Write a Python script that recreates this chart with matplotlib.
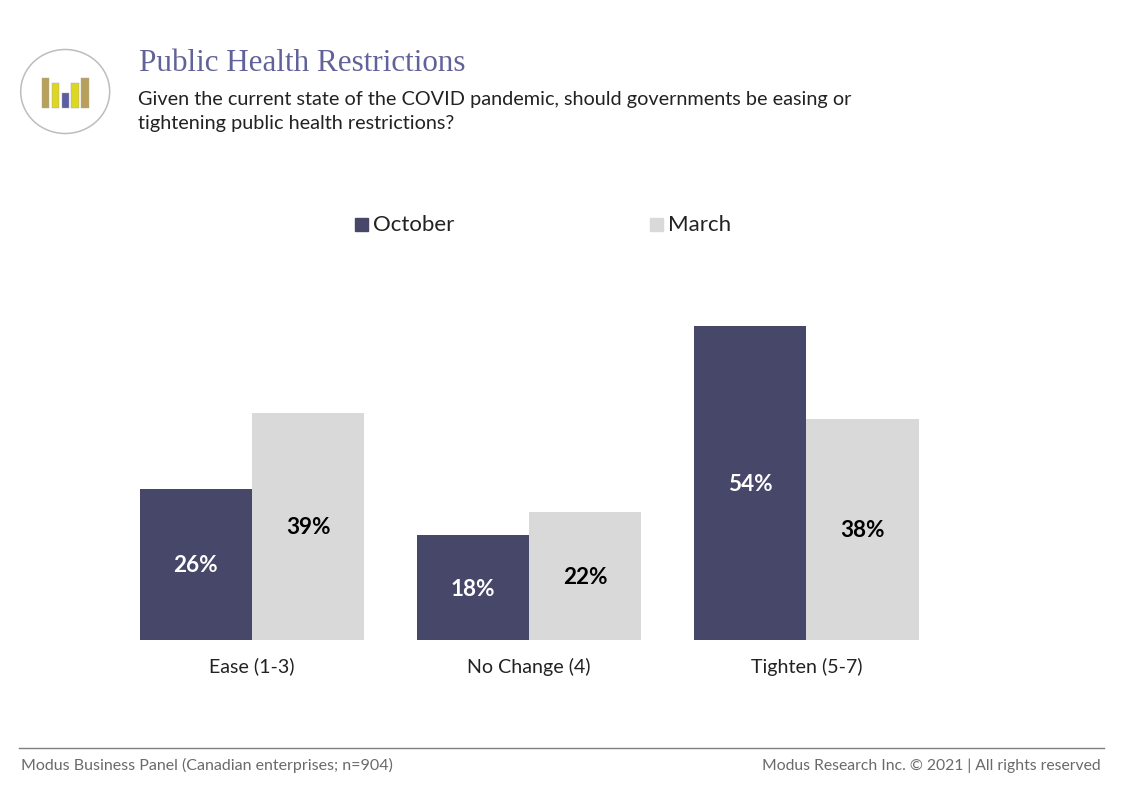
import matplotlib
matplotlib.use("Agg")
import matplotlib.pyplot as plt
from matplotlib.patches import Ellipse
from matplotlib.lines import Line2D

W, H = 1122, 793
categories = ["Ease (1-3)", "No Change (4)", "Tighten (5-7)"]
october = [26, 18, 54]
march = [39, 22, 38]
series_names = ["October", "March"]
title = "Public Health Restrictions"
question_lines = ["Given the current state of the COVID pandemic, should governments be easing or",
                  "tightening public health restrictions?"]
foot_left = "Modus Business Panel (Canadian enterprises; n=904)"
foot_right = "Modus Research Inc. \u00a9 2021 | All rights reserved"
logo_heights = [30, 25, 15, 25, 30]
logo_colors = ["#B9A05A", "#DDD622", "#5C5CA4", "#DDD622", "#B9A05A"]

DARK, LIGHT = "#474769", "#D9D9D9"
SANS = "Lato"
plt.rcParams["font.family"] = [SANS, "DejaVu Sans"]

fig = plt.figure(figsize=(W / 100, H / 100), dpi=100, facecolor="white")

def px_axes(x0, y0, x1, y1):
    return fig.add_axes([x0 / W, 1 - y1 / H, (x1 - x0) / W, (y1 - y0) / H])

# main chart: centres 252, 529, 806.5; baseline y=640; 5.815 px per unit
ax = px_axes(100, 291, 960, 640)
unit = 277.2
ax.set_xlim((100 - 252) / unit, (960 - 252) / unit)
ax.set_ylim(0, 349 / 5.815)
w = 112.2 / unit
xs = list(range(len(categories)))
b1 = ax.bar([x - w / 2 for x in xs], october, w, color=DARK)
b2 = ax.bar([x + w / 2 for x in xs], march, w, color=LIGHT)
for bars, vals, col in ((b1, october, "white"), (b2, march, "black")):
    labs = ax.bar_label(bars, labels=[f"{v}%" for v in vals], label_type="center",
                        color=col, fontsize=16.2, fontweight="bold")
    for t in labs:
        t.set_y(t.get_position()[1] - 1)
ax.set_xticks(xs, categories, fontsize=14.1, color="#222222")
ax.tick_params(axis="x", length=0, pad=12.7)
ax.set_yticks([])
for s in ax.spines.values():
    s.set_visible(False)
ax.patch.set_alpha(0)

# legend
for name, col, x in zip(series_names, [DARK, LIGHT], [355, 650]):
    fig.patches.append(plt.Rectangle((x / W, 1 - 231 / H), 13 / W, 13 / H,
                                     transform=fig.transFigure, color=col))
    fig.text((x + 18) / W, 1 - 225 / H, name, fontsize=16, color="#222222", va="center")

# header
fig.text(139 / W, 1 - 63.5 / H, title, fontsize=22.4, color="#62629A",
         family=["Liberation Serif", "DejaVu Serif"], va="center")
for line, y in zip(question_lines, [99.5, 123.5]):
    fig.text(138 / W, 1 - y / H, line, fontsize=14.28, color="#222222", va="center")

# logo
lg = px_axes(15, 44, 115, 139)
lg.set_xlim(15, 115)
lg.set_ylim(139, 44)
lg.axis("off")
lg.add_patch(Ellipse((65.2, 91.5), 89, 84, fc="white", ec="#BDBDBD", lw=1.1))
for i, (h, c) in enumerate(zip(logo_heights, logo_colors)):
    lg.bar(45.5 + 9.9 * i, h, 7.6, bottom=108 - h, color=c, edgecolor="#A8A8A8", linewidth=0.3)

# footer
fig.add_artist(Line2D([19 / W, 1104 / W], [1 - 748 / H] * 2, color="#7F7F7F", lw=1.0))
fig.text(21 / W, 1 - 765 / H, foot_left, fontsize=11.55, color="#6A6A6A", va="center")
fig.text(1101 / W, 1 - 766 / H, foot_right, fontsize=11.37, color="#6A6A6A", va="center", ha="right")

fig.savefig("out.png", dpi=100)
